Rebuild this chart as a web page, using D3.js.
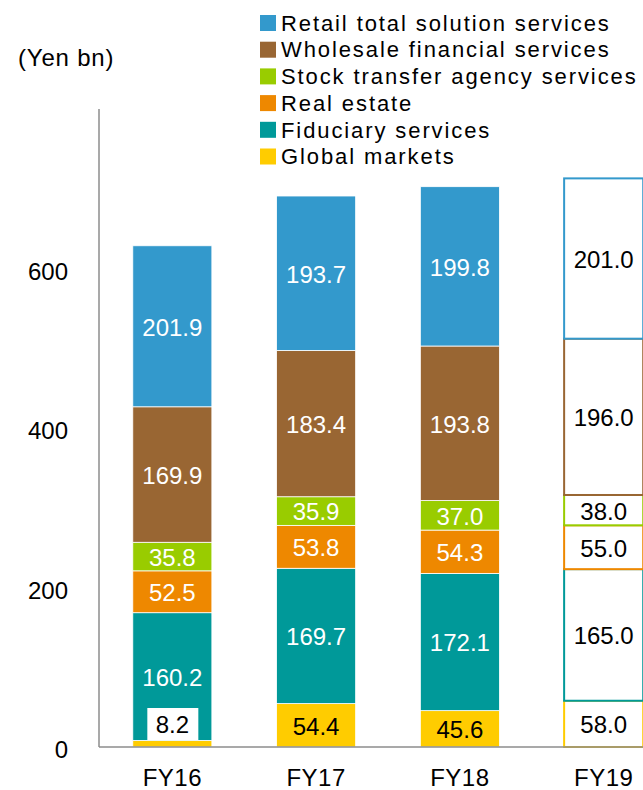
<!DOCTYPE html>
<html>
<head>
<meta charset="utf-8">
<script src="https://cdn.jsdelivr.net/npm/d3@7"></script>
<style>
  body { margin: 0; background: #fff; }
  svg text { font-family: "Liberation Sans", Arial, sans-serif; }
</style>
</head>
<body>
<div id="chart"></div>
<script>
// fiscal years, bottom segment first
const years = ['FY16', 'FY17', 'FY18', 'FY19']
const segments = ['Global markets', 'Fiduciary services', 'Real estate',
  'Stock transfer agency services', 'Wholesale financial services', 'Retail total solution services']
const colors = ['#ffcc00', '#009999', '#ee8800', '#99cc00', '#996633', '#3399cc']

const globalMarkets = [8.2, 54.4, 45.6, 58.0]
const fiduciary = [160.2, 169.7, 172.1, 165.0]
const realEstate = [52.5, 53.8, 54.3, 55.0]
const stockTransfer = [35.8, 35.9, 37.0, 38.0]
const wholesale = [169.9, 183.4, 193.8, 196.0]
const retail = [201.9, 193.7, 199.8, 201.0]

const yTicks = [0, 200, 400, 600]
const forecast = 'FY19'

const width = 643, height = 790

const series = [globalMarkets, fiduciary, realEstate, stockTransfer, wholesale, retail]
const rows = years.map((yr, i) => {
  let row = { year: yr }
  segments.forEach((s, j) => { row[s] = series[j][i] })
  return row
})
const stacked = d3.stack().keys(segments)(rows)

const svg = d3.select('#chart').append('svg')
  .attr('width', width)
  .attr('height', height)

const x = d3.scaleBand()
  .domain(years)
  .range([99, 677])
  .paddingInner(0.45)
  .paddingOuter(0.235)

const y = d3.scaleLinear()
  .domain([0, 800])
  .range([747, 109])

// axes
svg.append('line')
  .attr('x1', 99).attr('x2', 99)
  .attr('y1', y(800)).attr('y2', y(0))
  .attr('stroke', '#8c8c8c').attr('stroke-width', 1.5)

svg.selectAll('.ytick')
  .data(yTicks)
  .enter().append('text')
  .attr('class', 'ytick')
  .attr('x', 68)
  .attr('y', d => y(d) + 3)
  .attr('dy', '0.35em')
  .attr('text-anchor', 'end')
  .attr('font-size', 24)
  .text(d => d)

svg.append('text')
  .attr('x', 18).attr('y', 58)
  .attr('dy', '0.35em')
  .attr('font-size', 24)
  .attr('letter-spacing', 0.8)
  .text('(Yen bn)')

// bars
const layer = svg.selectAll('.layer')
  .data(stacked)
  .enter().append('g')
  .attr('class', 'layer')

layer.selectAll('rect')
  .data((d, j) => d.map(v => ({ v, j })))
  .enter().append('rect')
  .attr('x', d => x(d.v.data.year))
  .attr('width', x.bandwidth())
  .attr('y', d => y(d.v[1]))
  .attr('height', d => y(d.v[0]) - y(d.v[1]))
  .attr('fill', d => d.v.data.year == forecast ? '#fff' : colors[d.j])
  .attr('stroke', d => d.v.data.year == forecast ? colors[d.j] : '#fff')
  .attr('stroke-width', d => d.v.data.year == forecast ? 2 : 0.8)

svg.append('line')
  .attr('x1', 99).attr('x2', width)
  .attr('y1', y(0)).attr('y2', y(0))
  .attr('stroke', '#8c8c8c').attr('stroke-width', 1.5)

// value labels
stacked.forEach((s, j) => {
  s.forEach(v => {
    let yr = v.data.year
    let val = v[1] - v[0]
    let cx = x(yr) + x.bandwidth() / 2
    let cy = (y(v[0]) + y(v[1])) / 2
    let color = (yr == forecast || j == 0) ? '#000' : '#fff'
    if (val < 20) {
      // too thin: label boxed just above the base
      cy = y(0) - 23
      svg.append('rect')
        .attr('x', cx - 25).attr('y', cy - 16)
        .attr('width', 51).attr('height', 32)
        .attr('fill', '#fff')
      color = '#000'
    }
    svg.append('text')
      .attr('x', cx).attr('y', cy + 1)
      .attr('dy', '0.35em')
      .attr('text-anchor', 'middle')
      .attr('font-size', 24)
      .attr('fill', color)
      .text(val.toFixed(1))
  })
})

// category labels
svg.selectAll('.xlab')
  .data(years)
  .enter().append('text')
  .attr('class', 'xlab')
  .attr('x', d => x(d) + x.bandwidth() / 2)
  .attr('y', 778)
  .attr('dy', '0.35em')
  .attr('text-anchor', 'middle')
  .attr('font-size', 24)
  .attr('letter-spacing', 0.5)
  .text(d => d)

// legend, top item is retail
const legend = svg.selectAll('.leg')
  .data(segments.slice().reverse())
  .enter().append('g')
  .attr('class', 'leg')
  .attr('transform', (d, i) => `translate(260, ${23 + i * 26.7})`)

legend.append('rect')
  .attr('x', 0).attr('y', -8)
  .attr('width', 16).attr('height', 16)
  .attr('fill', d => colors[segments.indexOf(d)])

legend.append('text')
  .attr('x', 21).attr('y', 0)
  .attr('dy', '0.35em')
  .attr('font-size', 22)
  .attr('letter-spacing', 1.9)
  .text(d => d)
</script>
</body>
</html>
